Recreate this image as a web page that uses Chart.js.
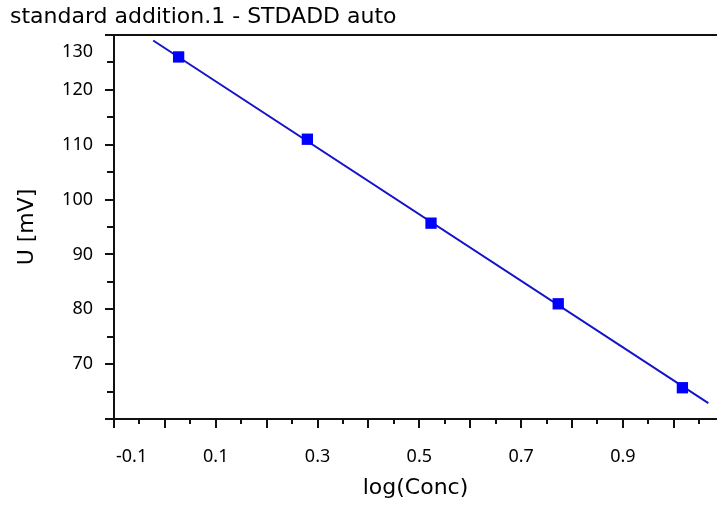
<!DOCTYPE html>
<html>
<head>
<meta charset="utf-8">
<title>standard addition.1 - STDADD auto</title>
<script src="https://cdn.jsdelivr.net/npm/chart.js@4/dist/chart.umd.min.js"></script>
<style>
  html, body { margin: 0; padding: 0; background: #fff; }
  #wrap { width: 717px; height: 505px; position: relative; }
</style>
</head>
<body>
<div id="wrap"><canvas id="chart"></canvas></div>
<script>
// measured points (log of concentration vs potential)
const pointX = [0.027, 0.280, 0.523, 0.773, 1.017];
const pointY = [126.0, 111.0, 95.7, 81.0, 65.7];

// regression line, ends as drawn
const fitX = [-0.023, 1.068];
const fitY = [129.0, 62.9];

// axis labels
const xTickLabels = [-0.1, 0.1, 0.3, 0.5, 0.7, 0.9];
const yTickLabels = [70, 80, 90, 100, 110, 120, 130];

const FONT = "'DejaVu Sans', Verdana, sans-serif";
const TICK_FONT = "'Noto Sans', 'DejaVu Sans', sans-serif";
const INK = '#111';

// ticks, labels and the top frame line, drawn from the chart's scales
const axisDeco = {
  id: 'axisDeco',
  afterDraw(chart) {
    const { ctx, chartArea: a, scales: { x, y } } = chart;
    ctx.save();
    ctx.strokeStyle = INK;
    ctx.lineWidth = 2;

    // top frame
    ctx.beginPath();
    ctx.moveTo(a.left - 1, a.top);
    ctx.lineTo(a.right, a.top);
    ctx.stroke();

    // y ticks every 5, longer on the tens
    ctx.beginPath();
    for (let v = y.min; v <= y.max + 1e-9; v += 5) {
      const py = Math.round(y.getPixelForValue(v));
      const len = v % 10 === 0 ? 9 : 7;
      ctx.moveTo(a.left - len, py);
      ctx.lineTo(a.left, py);
    }
    // x ticks every 0.05, longer on the tenths
    for (let i = 0; ; i++) {
      const v = x.min + i * 0.05;
      if (v > x.max + 1e-9) break;
      const px = Math.round(x.getPixelForValue(v));
      const len = i % 2 === 0 ? 9 : 5;
      ctx.moveTo(px, a.bottom);
      ctx.lineTo(px, a.bottom + len);
    }
    ctx.stroke();

    ctx.fillStyle = '#000';
    ctx.font = '18px ' + TICK_FONT;

    // y labels, kept below the top frame
    ctx.textAlign = 'right';
    ctx.textBaseline = 'middle';
    yTickLabels.forEach(v => {
      const py = Math.max(y.getPixelForValue(v), a.top + 17);
      ctx.fillText(String(v), a.left - 21, py);
    });

    // x labels, kept right of the left frame
    ctx.textAlign = 'center';
    xTickLabels.forEach(v => {
      const txt = v.toFixed(1);
      const w = ctx.measureText(txt).width;
      const px = Math.max(x.getPixelForValue(v), a.left + 2 + w / 2);
      ctx.fillText(txt, px, a.bottom + 38);
    });
    ctx.restore();
  }
};

new Chart(document.getElementById('chart'), {
  type: 'scatter',
  data: {
    datasets: [
      {
        label: 'samples',
        data: pointX.map((v, i) => ({ x: v, y: pointY[i] })),
        pointStyle: 'rect',
        pointRadius: 8,
        backgroundColor: '#0000ff',
        borderWidth: 0,
        showLine: false
      },
      {
        label: 'fit',
        data: fitX.map((v, i) => ({ x: v, y: fitY[i] })),
        showLine: true,
        pointRadius: 0,
        borderColor: '#1414c8',
        borderWidth: 2
      }
    ]
  },
  options: {
    responsive: true,
    maintainAspectRatio: false,
    animation: false,
    layout: { autoPadding: false, padding: { left: 10, right: 0, top: 0, bottom: 0 } },
    plugins: {
      legend: { display: false },
      tooltip: { enabled: false },
      title: {
        display: true,
        text: 'standard addition.1 - STDADD auto',
        align: 'start',
        color: '#000',
        font: { family: FONT, size: 22, weight: 'normal' },
        padding: { top: 4, bottom: 4.6 }
      }
    },
    scales: {
      x: {
        type: 'linear',
        min: -0.1,
        max: 1.085,
        grid: { display: false },
        border: { display: true, color: INK, width: 2 },
        ticks: { display: false },
        title: {
          display: true,
          text: 'log(Conc)',
          color: '#000',
          font: { family: FONT, size: 22 }
        },
        afterFit(s) { s.height = 86; }
      },
      y: {
        type: 'linear',
        min: 60,
        max: 130,
        grid: { display: false },
        border: { display: true, color: INK, width: 2 },
        ticks: { display: false },
        title: {
          display: true,
          text: 'U [mV]',
          color: '#000',
          font: { family: FONT, size: 22 }
        },
        afterFit(s) { s.width = 104; }
      }
    }
  },
  plugins: [axisDeco]
});
</script>
</body>
</html>
